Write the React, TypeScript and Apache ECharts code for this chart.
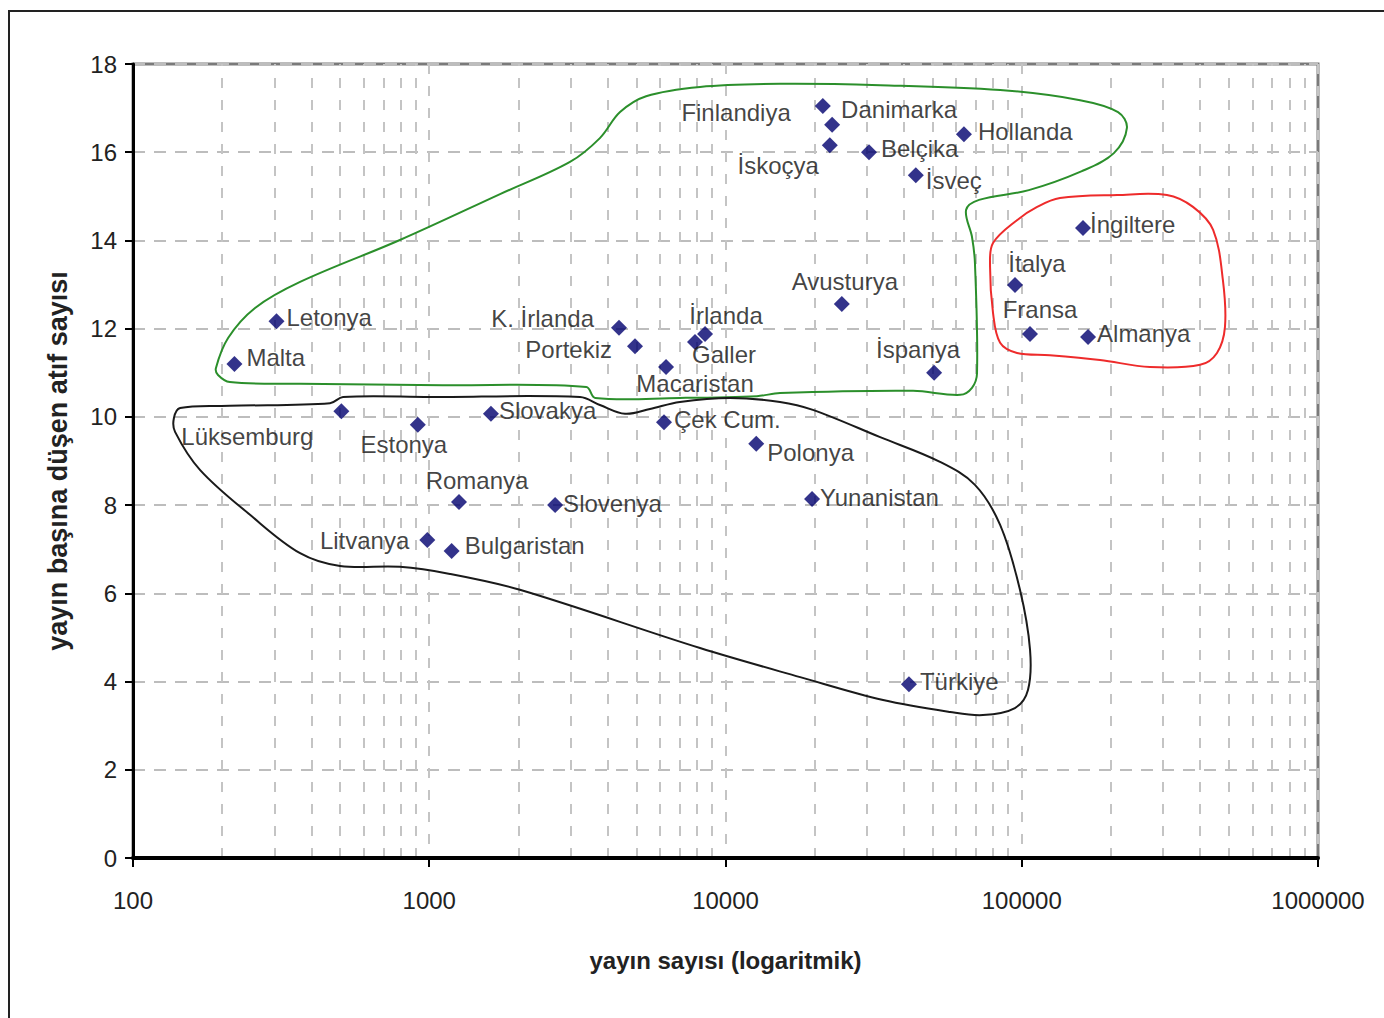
import React, { useEffect, useRef } from 'react';
import * as echarts from 'echarts';

// ---- data ----
const countries = [
  'Malta', 'Letonya', 'Lüksemburg', 'Estonya', 'Romanya', 'Litvanya', 'Bulgaristan',
  'Slovakya', 'Slovenya', 'K. İrlanda', 'Portekiz', 'Macaristan', 'Çek Cum.', 'Galler',
  'İrlanda', 'Polonya', 'Yunanistan', 'Avusturya', 'Finlandiya', 'Danimarka', 'İskoçya',
  'Belçika', 'İsveç', 'Hollanda', 'Türkiye', 'İspanya', 'İngiltere', 'İtalya', 'Fransa', 'Almanya',
];
const publications = [
  220, 305, 505, 915, 1260, 985, 1190,
  1615, 2660, 4370, 4950, 6300, 6200, 7890,
  8530, 12700, 19600, 24700, 21300, 22900, 22500,
  30500, 43900, 63800, 41600, 50600, 161000, 94900, 106600, 167400,
];
const citationsPerPaper = [
  11.2, 12.17, 10.13, 9.82, 8.07, 7.21, 6.96,
  10.07, 8.0, 12.02, 11.6, 11.13, 9.88, 11.7,
  11.88, 9.39, 8.14, 12.56, 17.05, 16.62, 16.16,
  16.0, 15.48, 16.41, 3.94, 11.0, 14.28, 12.99, 11.88, 11.81,
];
const xTickLabels = ['100', '1000', '10000', '100000', '1000000'];
const yTickLabels = ['0', '2', '4', '6', '8', '10', '12', '14', '16', '18'];

// hand-drawn group outlines, in data space: [log10(publications), citations]
const greenOutline = [
  [2.280, 11.11], [2.321, 11.79], [2.412, 12.47], [2.564, 13.06], [2.901, 14.01], [3.239, 15.05],
  [3.475, 15.78], [3.576, 16.32], [3.644, 16.91], [3.732, 17.27], [3.914, 17.48], [4.184, 17.55],
  [4.522, 17.52], [4.927, 17.41], [5.197, 17.18], [5.325, 16.91], [5.355, 16.55], [5.311, 15.98],
  [5.203, 15.57], [5.024, 15.14], [4.856, 14.92], [4.812, 14.69], [4.832, 14.08], [4.842, 13.49],
  [4.849, 10.99], [4.832, 10.66], [4.792, 10.50], [4.633, 10.59], [4.184, 10.54], [4.106, 10.47],
  [3.846, 10.43], [3.560, 10.43], [3.530, 10.68], [3.046, 10.72], [2.564, 10.75], [2.327, 10.79],
  [2.287, 10.95],
];
const redOutline = [
  [5.129, 14.96], [5.322, 15.03], [5.490, 15.03], [5.578, 14.76], [5.646, 14.24], [5.679, 13.10],
  [5.686, 12.04], [5.659, 11.45], [5.602, 11.18], [5.433, 11.13], [5.264, 11.29], [5.095, 11.40],
  [4.984, 11.45], [4.927, 11.68], [4.903, 12.36], [4.893, 13.40], [4.903, 13.94], [4.984, 14.46],
  [5.052, 14.76],
];
const blackOutline = [
  [2.159, 10.20], [2.327, 10.25], [2.665, 10.31], [2.709, 10.45], [3.003, 10.45], [3.509, 10.45],
  [3.576, 10.27], [3.661, 10.07], [3.745, 10.18], [3.846, 10.34], [4.015, 10.43], [4.184, 10.34],
  [4.295, 10.16], [4.522, 9.54], [4.724, 8.98], [4.842, 8.46], [4.927, 7.55], [4.994, 6.08],
  [5.028, 4.72], [5.021, 3.81], [4.977, 3.40], [4.869, 3.24], [4.758, 3.31], [4.532, 3.58],
  [4.252, 4.10], [3.914, 4.76], [3.306, 6.08], [3.070, 6.44], [2.901, 6.60], [2.699, 6.62],
  [2.564, 6.91], [2.395, 7.78], [2.226, 8.80], [2.142, 9.66], [2.138, 9.97],
];

// label placement: [align, dx, dy]
const labelPlacement: Record<string, [string, number, number]> = {
  'Malta': ['left', 12, -6],
  'Letonya': ['left', 10, -4],
  'Lüksemburg': ['center', -94, 25],
  'Estonya': ['center', -14, 20],
  'Romanya': ['center', 18, -22],
  'Litvanya': ['right', -18, 1],
  'Bulgaristan': ['left', 13, -5],
  'Slovakya': ['left', 8, -3],
  'Slovenya': ['left', 8, -2],
  'K. İrlanda': ['right', -25, -9],
  'Portekiz': ['right', -23, 3],
  'Macaristan': ['center', 29, 16],
  'Çek Cum.': ['left', 10, -3],
  'Galler': ['center', 29, 13],
  'İrlanda': ['center', 21, -18],
  'Polonya': ['left', 11, 9],
  'Yunanistan': ['left', 8, -1],
  'Avusturya': ['center', 3, -22],
  'Finlandiya': ['right', -32, 7],
  'Danimarka': ['left', 9, -15],
  'İskoçya': ['right', -11, 20],
  'Belçika': ['left', 12, -4],
  'İsveç': ['left', 10, 5],
  'Hollanda': ['left', 14, -3],
  'Türkiye': ['left', 11, -3],
  'İspanya': ['center', -16, -23],
  'İngiltere': ['left', 7, -4],
  'İtalya': ['center', 22, -21],
  'Fransa': ['center', 10, -24],
  'Almanya': ['left', 9, -4],
};

const FONT = 'Liberation Sans, Arial, sans-serif';

function outlineSeries(points: number[][], color: string) {
  return {
    type: 'custom',
    silent: true,
    z: 1,
    data: [[1000, 5]],
    renderItem: (params: any, api: any) => {
      if (params.dataIndex !== 0) return null;
      const pts = points.map(([lx, y]) => api.coord([Math.pow(10, lx), y]));
      return {
        type: 'polygon',
        shape: { points: pts, smooth: 0.35 },
        style: { fill: 'none', stroke: color, lineWidth: 2 },
      };
    },
  };
}

export default function App() {
  const ref = useRef<HTMLDivElement>(null);
  useEffect(() => {
    if (!ref.current) return;
    const chart = echarts.init(ref.current, null, { renderer: 'svg' });

    const minorValues: number[] = [];
    [100, 1000, 10000, 100000].forEach((d) => {
      for (let m = 2; m <= 9; m++) minorValues.push(d * m);
    });

    const scatterData = countries.map((c, i) => {
      const [align, dx, dy] = labelPlacement[c];
      return {
        name: c,
        value: [publications[i], citationsPerPaper[i]],
        label: {
          show: true,
          formatter: '{b}',
          position: 'inside',
          align,
          verticalAlign: 'middle',
          offset: [dx, dy],
        },
      };
    });

    chart.setOption({
      animation: false,
      backgroundColor: '#ffffff',
      textStyle: { fontFamily: FONT },
      grid: {
        left: 133,
        right: 66,
        top: 64,
        bottom: 160,
        show: true,
        borderColor: '#7a7a7a',
        borderWidth: 3,
        backgroundColor: 'transparent',
      },
      graphic: [
        {
          type: 'rect',
          shape: { x: 9, y: 11, width: 1420, height: 1100 },
          style: { fill: 'none', stroke: '#222', lineWidth: 2 },
          silent: true,
        },
      ],
      xAxis: {
        type: 'log',
        logBase: 10,
        min: 100,
        max: 1000000,
        name: 'yayın sayısı (logaritmik)',
        nameLocation: 'middle',
        nameGap: 90,
        nameTextStyle: { fontSize: 24, fontWeight: 'bold', color: '#222', fontFamily: FONT },
        axisLine: { show: true, onZero: false, lineStyle: { color: '#000', width: 4 } },
        axisTick: { show: true, length: 9, lineStyle: { color: '#000', width: 2 } },
        minorTick: { show: false },
        axisLabel: {
          margin: 30,
          fontSize: 24,
          color: '#222',
          fontFamily: FONT,
          formatter: (v: number) => {
            const idx = Math.round(Math.log10(v)) - 2;
            return xTickLabels[idx] ?? String(v);
          },
        },
        splitLine: { show: true, lineStyle: { color: '#c4c4c4', width: 2, type: [10, 12] } },
      },
      yAxis: {
        type: 'value',
        min: 0,
        max: 18,
        interval: 2,
        name: 'yayın başına düşen atıf sayısı',
        nameLocation: 'middle',
        nameRotate: 90,
        nameGap: 62,
        nameTextStyle: { fontSize: 27, fontWeight: 'bold', color: '#222', fontFamily: FONT },
        axisLine: { show: true, lineStyle: { color: '#000', width: 3 } },
        axisTick: { show: true, length: 8, lineStyle: { color: '#000', width: 2 } },
        axisLabel: {
          margin: 16,
          fontSize: 24,
          color: '#222',
          fontFamily: FONT,
          formatter: (v: number) => yTickLabels[Math.round(v / 2)] ?? String(v),
        },
        splitLine: { show: true, lineStyle: { color: '#bdbdbd', width: 2, type: [12, 9] } },
      },
      series: [
        outlineSeries(greenOutline, '#2b8f2b'),
        outlineSeries(redOutline, '#ee2b2b'),
        outlineSeries(blackOutline, '#1a1a1a'),
        {
          type: 'scatter',
          z: 3,
          symbol: 'diamond',
          symbolSize: 16,
          itemStyle: { color: '#00006e' },
          label: { color: '#111', fontSize: 24, fontFamily: FONT },
          data: scatterData,
          markLine: {
            silent: true,
            symbol: 'none',
            label: { show: false },
            z: 0,
            lineStyle: { color: '#c4c4c4', width: 2, type: [10, 12] },
            data: minorValues.map((v) => ({ xAxis: v })),
          },
        },
      ],
    });
    return () => chart.dispose();
  }, []);

  return (
    <div
      ref={ref}
      style={{ position: 'fixed', left: 0, top: 0, width: 1384, height: 1018, background: '#fff' }}
    />
  );
}
